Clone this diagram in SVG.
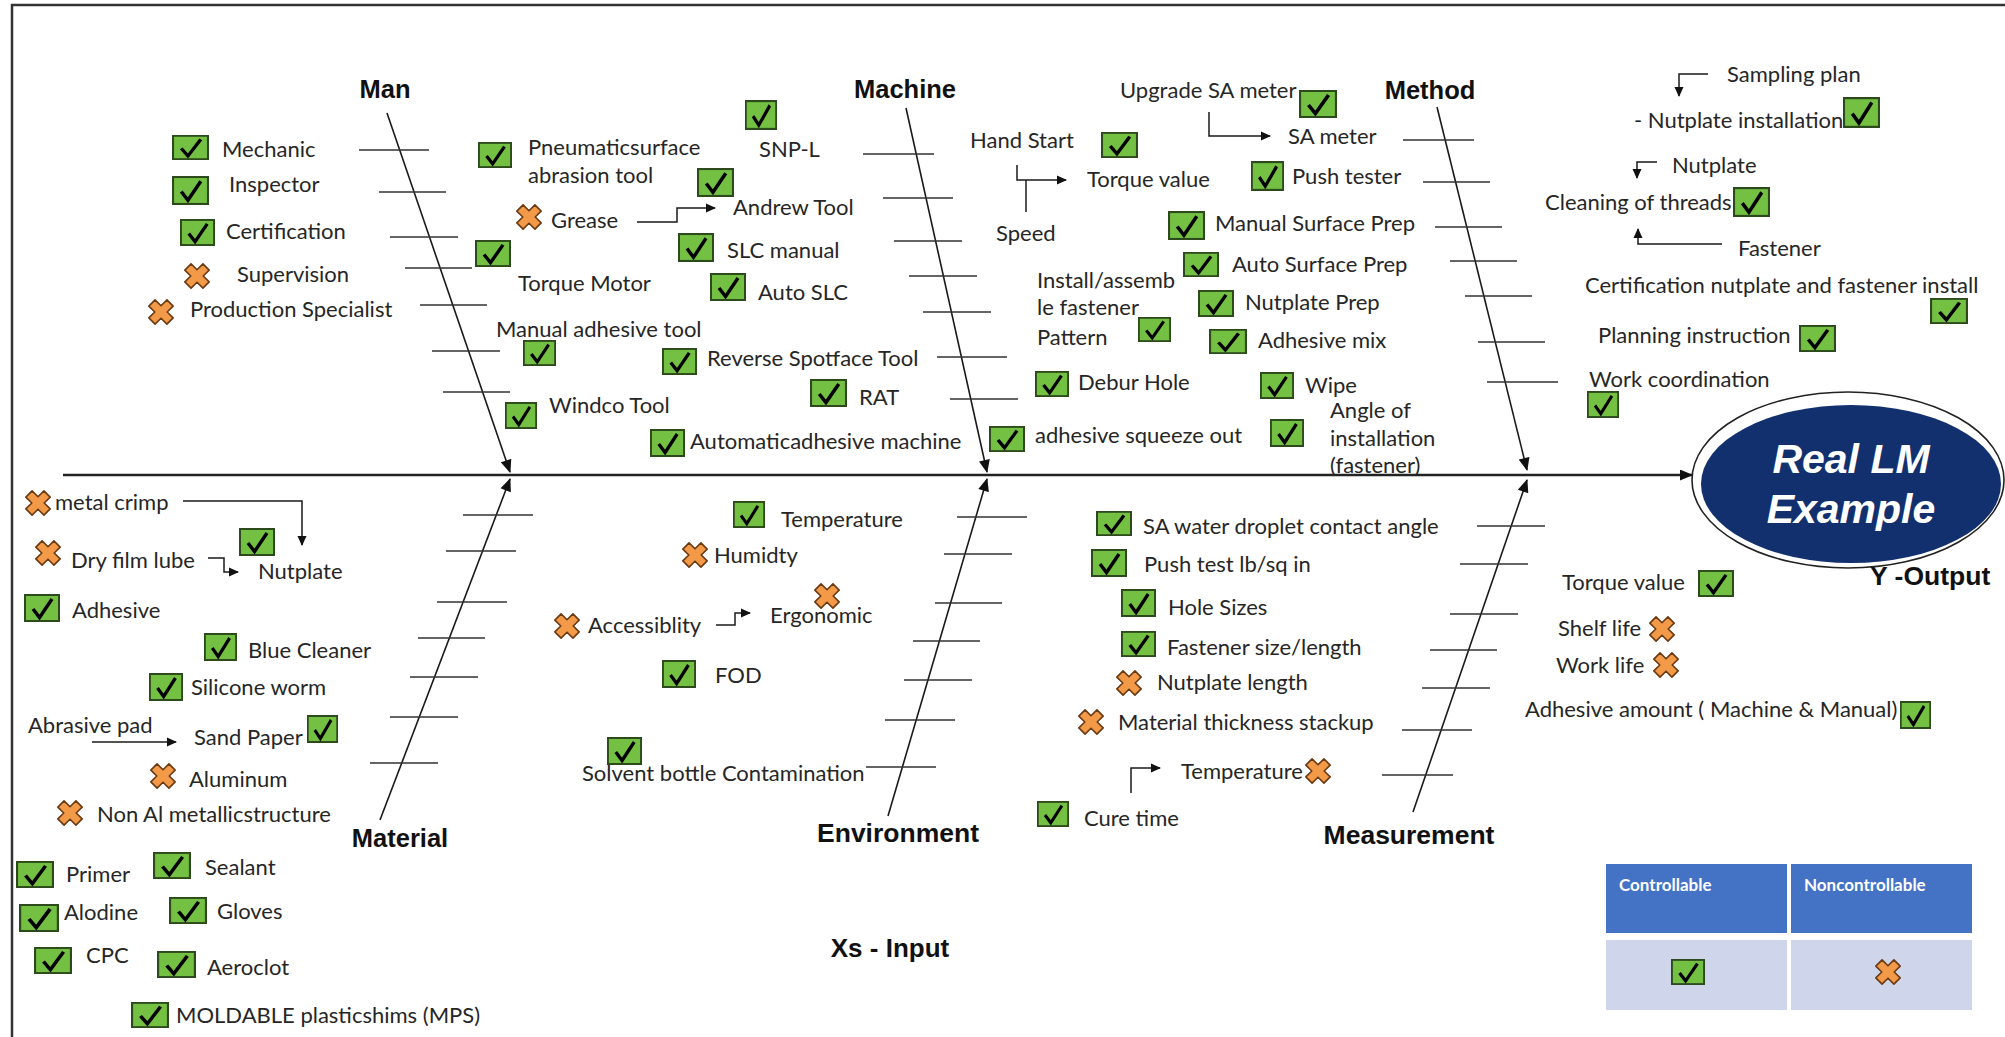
<svg xmlns="http://www.w3.org/2000/svg" xmlns:xlink="http://www.w3.org/1999/xlink" width="2005" height="1037" viewBox="0 0 2005 1037">
  <defs>
    <style>
      .t { font-family: Lato, "Liberation Sans", sans-serif; font-size: 22px; fill: #262626; }
      .cat { font-family: "Liberation Sans", Arial, sans-serif; font-weight: bold; font-size: 25.5px; fill: #111; }
      .bone { stroke: #1a1a1a; stroke-width: 1.6; fill: none; }
      .rib { stroke: #333; stroke-width: 1.6; fill: none; }
      .link { stroke: #1a1a1a; stroke-width: 1.5; fill: none; }
      .hd { font-family: Lato, "Liberation Sans", sans-serif; font-weight: bold; font-size: 17px; fill: #fff; }
    </style>
    <!-- green tick box -->
    <symbol id="ok" viewBox="0 0 36 28" preserveAspectRatio="none">
      <rect x="1" y="1" width="34" height="26" fill="#74c043" stroke="#2d4a1c" stroke-width="2"/>
      <path d="M9,15 L15.5,23.5 L28,5" fill="none" stroke="#000" stroke-width="3.4" stroke-linejoin="miter"/>
    </symbol>
    <!-- orange cross -->
    <symbol id="no" viewBox="-13 -13 26 26">
      <path transform="rotate(45)" d="M4.4,-12.8 L4.4,-4.4 L12.8,-4.4 L12.8,4.4 L4.4,4.4 L4.4,12.8 L-4.4,12.8 L-4.4,4.4 L-12.8,4.4 L-12.8,-4.4 L-4.4,-4.4 L-4.4,-12.8 Z" fill="#f39a48" stroke="#6b3a12" stroke-width="1.6" stroke-linejoin="round"/>
    </symbol>
    <marker id="ah" viewBox="0 0 10 10" refX="9" refY="5" markerWidth="11" markerHeight="10" markerUnits="userSpaceOnUse" orient="auto">
      <path d="M0,0.5 L10,5 L0,9.5 Z" fill="#111"/>
    </marker>
    <marker id="bh" viewBox="0 0 12 10" refX="11" refY="5" markerWidth="14" markerHeight="11" markerUnits="userSpaceOnUse" orient="auto">
      <path d="M0,0 L12,5 L0,10 Z" fill="#111"/>
    </marker>
  </defs>

  <rect width="2005" height="1037" fill="#fff"/>
  <path d="M12,1037 V5 H2005" fill="none" stroke="#333" stroke-width="2.5"/>

  <!-- spine, bones and ribs -->
  <g id="connectors">
    <line x1="63" y1="475" x2="1692" y2="475" stroke="#222" stroke-width="2.4" marker-end="url(#bh)"/>
    <line class="bone" x1="387" y1="113" x2="510" y2="472" marker-end="url(#bh)"/>
    <line class="bone" x1="906" y1="108" x2="987" y2="472" marker-end="url(#bh)"/>
    <line class="bone" x1="1437" y1="107" x2="1527" y2="470" marker-end="url(#bh)"/>
    <line class="bone" x1="380" y1="820" x2="510" y2="479" marker-end="url(#bh)"/>
    <line class="bone" x1="888" y1="816" x2="987" y2="479" marker-end="url(#bh)"/>
    <line class="bone" x1="1413" y1="812" x2="1527" y2="480" marker-end="url(#bh)"/>
    <!-- Man ribs -->
    <path class="rib" d="M359,150H429 M379,192H446 M390,237H458 M405,268H472 M420,305H487 M432,351H500 M443,392H510"/>
    <!-- Machine ribs -->
    <path class="rib" d="M863,154H934 M883,198H953 M894,241H962 M909,276H977 M923,312H991 M937,357H1007 M950,399H1018"/>
    <!-- Method ribs -->
    <path class="rib" d="M1403,140H1474 M1423,182H1490 M1435,227H1502 M1450,261H1517 M1465,296H1532 M1478,342H1545 M1487,382H1558"/>
    <!-- Material ribs -->
    <path class="rib" d="M463,515H533 M446,551H516 M437,602H507 M418,638H485 M410,677H478 M390,717H458 M370,763H438"/>
    <!-- Environment ribs -->
    <path class="rib" d="M957,517H1027 M944,554H1012 M935,603H1002 M913,641H980 M904,680H972 M885,720H955 M866,767H936"/>
    <!-- Measurement ribs -->
    <path class="rib" d="M1477,526H1545 M1460,564H1528 M1450,614H1518 M1430,650H1497 M1422,688H1490 M1402,730H1472 M1382,775H1453"/>
    <!-- item links -->
    <path class="link" d="M637,222 H677 V208 H715" marker-end="url(#ah)"/>
    <path class="link" d="M1209,112 V136 H1270" marker-end="url(#ah)"/>
    <path class="link" d="M1017,165 V180 H1066" marker-end="url(#ah)"/>
    <path class="link" d="M1026,180 V212"/>
    <path class="link" d="M1708,74 H1679 V96" marker-end="url(#ah)"/>
    <path class="link" d="M1657,162 H1637 V178" marker-end="url(#ah)"/>
    <path class="link" d="M1722,244 H1638 V229" marker-end="url(#ah)"/>
    <path class="link" d="M183,501 H302 V545" marker-end="url(#ah)"/>
    <path class="link" d="M208,558 H224 V572 H238" marker-end="url(#ah)"/>
    <path class="link" d="M92,742 H176" marker-end="url(#ah)"/>
    <path class="link" d="M716,625 H735 V613 H750" marker-end="url(#ah)"/>
    <path class="link" d="M1131,793 V768 H1160" marker-end="url(#ah)"/>
  </g>

  <!-- category labels -->
  <g id="cat-man"><text class="cat" x="385" y="98" text-anchor="middle">Man</text></g>
  <g id="cat-machine"><text class="cat" x="905" y="98" text-anchor="middle">Machine</text></g>
  <g id="cat-method"><text class="cat" x="1430" y="99" text-anchor="middle">Method</text></g>
  <g id="cat-material"><text class="cat" x="400" y="847" text-anchor="middle">Material</text></g>
  <g id="cat-environment"><text class="cat" x="898" y="842" text-anchor="middle" style="font-size:26.5px">Environment</text></g>
  <g id="cat-measurement"><text class="cat" x="1409" y="844" text-anchor="middle" style="font-size:26.5px">Measurement</text></g>
  <g id="xs-input"><text class="cat" x="890" y="957" text-anchor="middle" style="font-size:26px">Xs - Input</text></g>

  <!-- effect head -->
  <g id="effect">
    <ellipse cx="1848" cy="480" rx="156" ry="88" fill="#fff" stroke="#222" stroke-width="1.6"/>
    <ellipse cx="1851" cy="484" rx="150" ry="79" fill="#12306e"/>
    <text x="1851" y="473" text-anchor="middle" font-family="Liberation Sans, Arial, sans-serif" font-weight="bold" font-style="italic" font-size="41" fill="#fff">Real LM</text>
    <text x="1851" y="523" text-anchor="middle" font-family="Liberation Sans, Arial, sans-serif" font-weight="bold" font-style="italic" font-size="41" fill="#fff">Example</text>
  </g>
  <g id="y-output"><text class="cat" x="1870" y="585" style="font-size:26.5px">Y -Output</text></g>

  <!-- Man -->
  <g id="mechanic"><use href="#ok" x="172" y="135" width="37" height="25"/><text class="t" x="222" y="157">Mechanic</text></g>
  <g id="inspector"><use href="#ok" x="172" y="176" width="37" height="29"/><text class="t" x="229" y="192">Inspector</text></g>
  <g id="certification"><use href="#ok" x="180" y="219" width="35" height="27"/><text class="t" x="226" y="239">Certification</text></g>
  <g id="supervision"><use href="#no" x="184" y="263" width="26" height="26"/><text class="t" x="237" y="282">Supervision</text></g>
  <g id="production-specialist"><use href="#no" x="148" y="299" width="26" height="26"/><text class="t" x="190" y="317">Production Specialist</text></g>

  <!-- Machine -->
  <g id="pneumatic-tool"><use href="#ok" x="478" y="142" width="34" height="26"/><text class="t" x="528" y="155">Pneumaticsurface</text><text class="t" x="528" y="183">abrasion tool</text></g>
  <g id="snp-l"><use href="#ok" x="745" y="100" width="32" height="30"/><text class="t" x="759" y="157">SNP-L</text></g>
  <g id="andrew-tool"><use href="#ok" x="697" y="168" width="37" height="29"/><text class="t" x="733" y="215">Andrew Tool</text></g>
  <g id="grease"><use href="#no" x="516" y="204" width="26" height="26"/><text class="t" x="551" y="228">Grease</text></g>
  <g id="torque-motor"><use href="#ok" x="475" y="240" width="36" height="27"/><text class="t" x="518" y="291">Torque Motor</text></g>
  <g id="slc-manual"><use href="#ok" x="678" y="233" width="36" height="29"/><text class="t" x="727" y="258">SLC manual</text></g>
  <g id="auto-slc"><use href="#ok" x="710" y="273" width="36" height="28"/><text class="t" x="758" y="300">Auto SLC</text></g>
  <g id="manual-adhesive-tool"><text class="t" x="496" y="337">Manual adhesive tool</text><use href="#ok" x="523" y="340" width="33" height="26"/></g>
  <g id="reverse-spotface"><use href="#ok" x="662" y="348" width="35" height="27"/><text class="t" x="707" y="366">Reverse Spotface Tool</text></g>
  <g id="rat"><use href="#ok" x="810" y="379" width="37" height="28"/><text class="t" x="859" y="405">RAT</text></g>
  <g id="windco-tool"><use href="#ok" x="505" y="402" width="32" height="27"/><text class="t" x="549" y="413">Windco Tool</text></g>
  <g id="auto-adhesive-machine"><use href="#ok" x="650" y="429" width="35" height="28"/><text class="t" x="690" y="449">Automaticadhesive machine</text></g>

  <!-- Method -->
  <g id="hand-start"><text class="t" x="970" y="148">Hand Start</text><use href="#ok" x="1101" y="132" width="37" height="26"/></g>
  <g id="torque-value"><text class="t" x="1087" y="187">Torque value</text></g>
  <g id="speed"><text class="t" x="996" y="241">Speed</text></g>
  <g id="upgrade-sa-meter"><text class="t" x="1120" y="98">Upgrade SA meter</text><use href="#ok" x="1299" y="90" width="38" height="28"/></g>
  <g id="sa-meter"><text class="t" x="1288" y="144">SA meter</text></g>
  <g id="push-tester"><use href="#ok" x="1251" y="161" width="33" height="30"/><text class="t" x="1292" y="184">Push tester</text></g>
  <g id="manual-surface-prep"><use href="#ok" x="1168" y="211" width="37" height="29"/><text class="t" x="1215" y="231">Manual Surface Prep</text></g>
  <g id="auto-surface-prep"><use href="#ok" x="1183" y="252" width="36" height="25"/><text class="t" x="1232" y="272">Auto Surface Prep</text></g>
  <g id="install-pattern"><text class="t" x="1037" y="288">Install/assemb</text><text class="t" x="1037" y="315">le fastener</text><text class="t" x="1037" y="345">Pattern</text><use href="#ok" x="1138" y="317" width="33" height="25"/></g>
  <g id="nutplate-prep"><use href="#ok" x="1198" y="290" width="36" height="27"/><text class="t" x="1245" y="310">Nutplate Prep</text></g>
  <g id="adhesive-mix"><use href="#ok" x="1209" y="329" width="38" height="25"/><text class="t" x="1258" y="348">Adhesive mix</text></g>
  <g id="debur-hole"><use href="#ok" x="1035" y="371" width="34" height="26"/><text class="t" x="1078" y="390">Debur Hole</text></g>
  <g id="wipe"><use href="#ok" x="1260" y="372" width="34" height="27"/><text class="t" x="1305" y="393">Wipe</text></g>
  <g id="adhesive-squeeze-out"><use href="#ok" x="989" y="426" width="36" height="26"/><text class="t" x="1035" y="443">adhesive squeeze out</text></g>
  <g id="angle-of-installation"><use href="#ok" x="1270" y="419" width="34" height="28"/><text class="t" x="1330" y="418">Angle of</text><text class="t" x="1330" y="446">installation</text><text class="t" x="1330" y="473">(fastener)</text></g>

  <!-- Method, right column -->
  <g id="sampling-plan"><text class="t" x="1727" y="82">Sampling plan</text></g>
  <g id="nutplate-installation"><text class="t" x="1634" y="128">- Nutplate installation</text><use href="#ok" x="1843" y="97" width="37" height="31"/></g>
  <g id="nutplate-method"><text class="t" x="1672" y="173">Nutplate</text></g>
  <g id="cleaning-of-threads"><text class="t" x="1545" y="210">Cleaning of threads</text><use href="#ok" x="1733" y="187" width="37" height="30"/></g>
  <g id="fastener"><text class="t" x="1738" y="256">Fastener</text></g>
  <g id="certification-install"><text class="t" x="1585" y="293">Certification nutplate and fastener install</text><use href="#ok" x="1930" y="298" width="38" height="26"/></g>
  <g id="planning-instruction"><text class="t" x="1598" y="343">Planning instruction</text><use href="#ok" x="1799" y="325" width="37" height="27"/></g>
  <g id="work-coordination"><text class="t" x="1589" y="387">Work coordination</text><use href="#ok" x="1587" y="391" width="32" height="27"/></g>

  <!-- Output measures -->
  <g id="torque-value-out"><text class="t" x="1562" y="590">Torque value</text><use href="#ok" x="1698" y="570" width="36" height="27"/></g>
  <g id="shelf-life"><text class="t" x="1558" y="636">Shelf life</text><use href="#no" x="1649" y="616" width="26" height="26"/></g>
  <g id="work-life"><text class="t" x="1556" y="673">Work life</text><use href="#no" x="1653" y="652" width="26" height="26"/></g>
  <g id="adhesive-amount"><text class="t" x="1525" y="717">Adhesive amount ( Machine &amp; Manual)</text><use href="#ok" x="1900" y="701" width="31" height="28"/></g>

  <!-- Material -->
  <g id="metal-crimp"><use href="#no" x="25" y="490" width="26" height="26"/><text class="t" x="55" y="510">metal crimp</text></g>
  <g id="dry-film-lube"><use href="#no" x="35" y="540" width="26" height="26"/><text class="t" x="71" y="568">Dry film lube</text></g>
  <g id="nutplate-material"><use href="#ok" x="239" y="528" width="36" height="28"/><text class="t" x="258" y="579">Nutplate</text></g>
  <g id="adhesive"><use href="#ok" x="24" y="594" width="36" height="28"/><text class="t" x="72" y="618">Adhesive</text></g>
  <g id="blue-cleaner"><use href="#ok" x="204" y="633" width="33" height="28"/><text class="t" x="248" y="658">Blue Cleaner</text></g>
  <g id="silicone-worm"><use href="#ok" x="149" y="673" width="34" height="28"/><text class="t" x="191" y="695">Silicone worm</text></g>
  <g id="abrasive-pad"><text class="t" x="28" y="733">Abrasive pad</text></g>
  <g id="sand-paper"><text class="t" x="194" y="745">Sand Paper</text><use href="#ok" x="307" y="715" width="31" height="28"/></g>
  <g id="aluminum"><use href="#no" x="150" y="763" width="26" height="26"/><text class="t" x="189" y="787">Aluminum</text></g>
  <g id="non-al-structure"><use href="#no" x="57" y="800" width="26" height="26"/><text class="t" x="97" y="822">Non Al metallicstructure</text></g>
  <g id="primer"><use href="#ok" x="16" y="861" width="38" height="27"/><text class="t" x="66" y="882">Primer</text></g>
  <g id="sealant"><use href="#ok" x="153" y="852" width="38" height="27"/><text class="t" x="205" y="875">Sealant</text></g>
  <g id="alodine"><use href="#ok" x="19" y="904" width="40" height="28"/><text class="t" x="64" y="920">Alodine</text></g>
  <g id="gloves"><use href="#ok" x="169" y="897" width="38" height="27"/><text class="t" x="217" y="919">Gloves</text></g>
  <g id="cpc"><use href="#ok" x="34" y="947" width="38" height="27"/><text class="t" x="86" y="963">CPC</text></g>
  <g id="aeroclot"><use href="#ok" x="157" y="951" width="39" height="27"/><text class="t" x="207" y="975">Aeroclot</text></g>
  <g id="moldable-shims"><use href="#ok" x="131" y="1002" width="38" height="26"/><text class="t" x="176" y="1023">MOLDABLE plasticshims (MPS)</text></g>

  <!-- Environment -->
  <g id="temperature-env"><use href="#ok" x="733" y="501" width="32" height="27"/><text class="t" x="781" y="527">Temperature</text></g>
  <g id="humidity"><use href="#no" x="682" y="542" width="26" height="26"/><text class="t" x="714" y="563">Humidty</text></g>
  <g id="accessibility"><use href="#no" x="554" y="613" width="26" height="26"/><text class="t" x="588" y="633">Accessiblity</text></g>
  <g id="ergonomic"><use href="#no" x="814" y="583" width="26" height="26"/><text class="t" x="770" y="623">Ergonomic</text></g>
  <g id="fod"><use href="#ok" x="662" y="660" width="34" height="28"/><text class="t" x="715" y="683">FOD</text></g>
  <g id="solvent-bottle"><use href="#ok" x="607" y="737" width="35" height="28"/><text class="t" x="582" y="781">Solvent bottle Contamination</text></g>

  <!-- Measurement -->
  <g id="sa-water-droplet"><use href="#ok" x="1096" y="511" width="36" height="25"/><text class="t" x="1143" y="534">SA water droplet contact angle</text></g>
  <g id="push-test"><use href="#ok" x="1091" y="549" width="36" height="28"/><text class="t" x="1144" y="572">Push test lb/sq in</text></g>
  <g id="hole-sizes"><use href="#ok" x="1121" y="589" width="35" height="28"/><text class="t" x="1168" y="615">Hole Sizes</text></g>
  <g id="fastener-size"><use href="#ok" x="1121" y="631" width="35" height="26"/><text class="t" x="1167" y="655">Fastener size/length</text></g>
  <g id="nutplate-length"><use href="#no" x="1116" y="670" width="26" height="26"/><text class="t" x="1157" y="690">Nutplate length</text></g>
  <g id="material-thickness"><use href="#no" x="1078" y="709" width="26" height="26"/><text class="t" x="1118" y="730">Material thickness stackup</text></g>
  <g id="temperature-meas"><text class="t" x="1181" y="779">Temperature</text><use href="#no" x="1305" y="758" width="26" height="26"/></g>
  <g id="cure-time"><use href="#ok" x="1037" y="801" width="32" height="26"/><text class="t" x="1084" y="826">Cure time</text></g>

  <!-- legend -->
  <g id="legend">
    <rect x="1606" y="864" width="181" height="69" fill="#4472c4"/>
    <rect x="1791" y="864" width="181" height="69" fill="#4472c4"/>
    <rect x="1606" y="940" width="181" height="70" fill="#cfd5ea"/>
    <rect x="1791" y="940" width="181" height="70" fill="#cfd5ea"/>
    <text class="hd" x="1619" y="891">Controllable</text>
    <text class="hd" x="1804" y="891">Noncontrollable</text>
    <use href="#ok" x="1671" y="959" width="34" height="26"/>
    <use href="#no" x="1875" y="959" width="26" height="26"/>
  </g>
</svg>
